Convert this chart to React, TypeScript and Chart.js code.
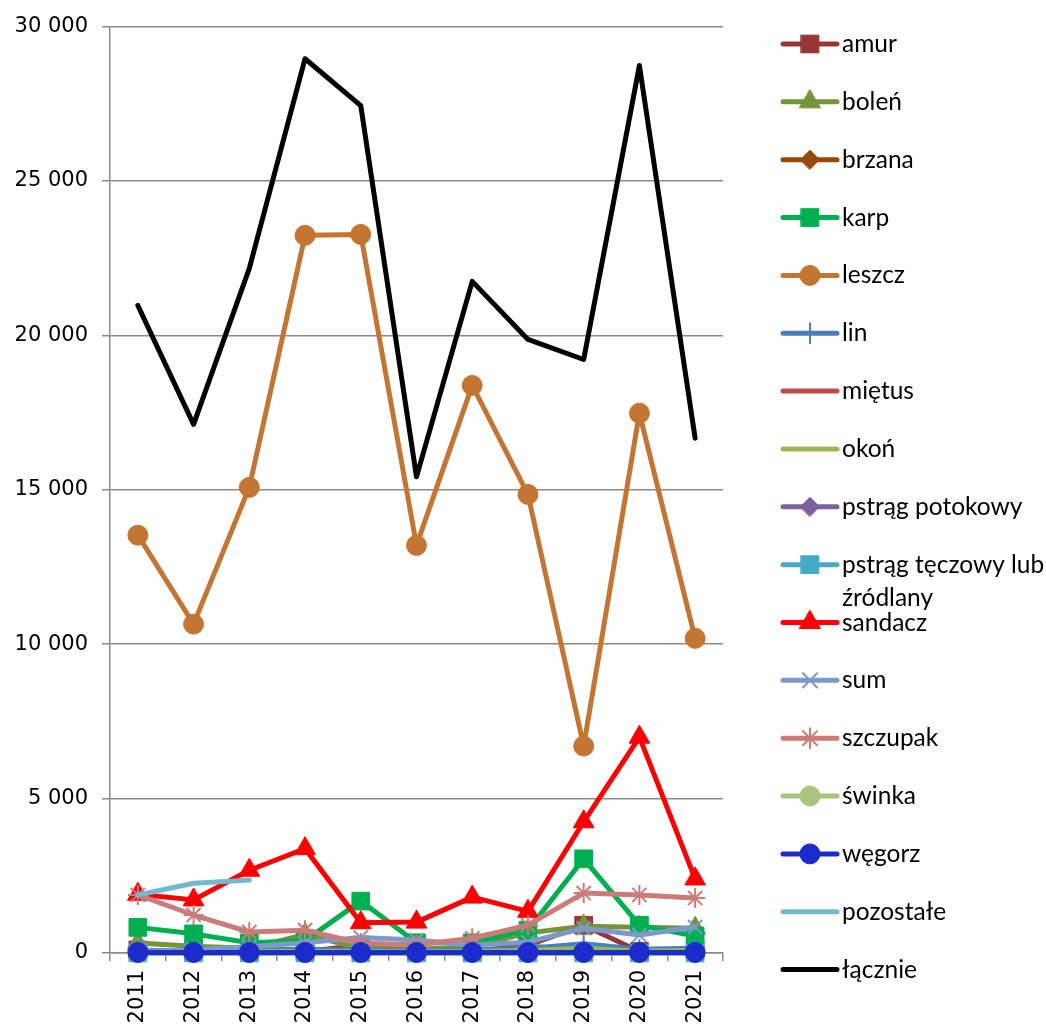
import React, { useEffect, useRef } from 'react';
import { Chart, registerables } from 'chart.js';
import { drawPoint } from 'chart.js/helpers';

Chart.register(...registerables);

const years = ['2011', '2012', '2013', '2014', '2015', '2016', '2017', '2018', '2019', '2020', '2021'];

const amur = [100, 50, 50, 50, 250, 50, 50, 250, 900, 50, 100];
const bolen = [320, 220, 150, 600, 150, 120, 200, 650, 870, 830, 800];
const brzana = [30, 20, 20, 30, 30, 20, 20, 220, 100, 20, 30];
const karp = [830, 620, 330, 400, 1680, 330, 330, 740, 3050, 900, 550];
const leszcz = [13530, 10650, 15080, 23240, 23270, 13200, 18380, 14850, 6700, 17480, 10190];
const lin = [80, 80, 100, 120, 100, 80, 100, 150, 300, 120, 150];
const mietus = [5, 5, 5, 5, 5, 5, 5, 5, 5, 5, 5];
const okon = [60, 50, 50, 50, 50, 40, 50, 80, 150, 60, 80];
const pstragPotokowy = [10, 10, 10, 10, 10, 10, 10, 10, 10, 10, 10];
const pstragTeczowy = [0, 0, 0, 0, 0, 0, 0, 0, 0, 0, 0];
const sandacz = [1900, 1720, 2680, 3380, 980, 1000, 1810, 1350, 4250, 6990, 2400];
const sum = [50, 100, 200, 330, 500, 420, 260, 350, 800, 580, 840];
const szczupak = [1880, 1230, 680, 740, 320, 260, 480, 900, 1940, 1880, 1780];
const swinka = [10, 10, 10, 10, 10, 10, 10, 10, 10, 10, 10];
const wegorz = [20, 20, 20, 20, 20, 20, 20, 20, 20, 20, 20];
const pozostale = [1880, 2260, 2360, null, null, null, null, null, null, null, null];
const lacznie = [20970, 17120, 22170, 28960, 27440, 15420, 21750, 19870, 19220, 28740, 16670];

const seriesNames = [
  'amur', 'boleń', 'brzana', 'karp', 'leszcz', 'lin', 'miętus', 'okoń',
  'pstrąg potokowy', 'pstrąg tęczowy lub\nźródlany', 'sandacz', 'sum', 'szczupak',
  'świnka', 'węgorz', 'pozostałe', 'łącznie',
];
const seriesValues = [
  amur, bolen, brzana, karp, leszcz, lin, mietus, okon, pstragPotokowy, pstragTeczowy,
  sandacz, sum, szczupak, swinka, wegorz, pozostale, lacznie,
];

// styles: [color, pointStyle, radius, pointBorderWidth]
const seriesStyles: [string, string | false, number, number][] = [
  ['#953735', 'rect', 12.5, 1],
  ['#77933C', 'triangle', 12, 1],
  ['#984807', 'rectRot', 9.5, 1],
  ['#00B050', 'rect', 12.5, 1],
  ['#C47532', 'circle', 10, 1],
  ['#4A7EBB', 'cross', 10, 2],
  ['#BE4B48', false, 0, 0],
  ['#98B954', false, 0, 0],
  ['#7D5FA0', 'rectRot', 9.5, 1],
  ['#46AAC5', 'rect', 12.5, 1],
  ['#FF0000', 'triangle', 12, 1],
  ['#7D99CA', 'crossRot', 10, 2],
  ['#CC7B79', 'star', 10, 2],
  ['#A8C47E', 'circle', 10, 1],
  ['#1B2BCC', 'circle', 10, 1],
  ['#74B7CF', false, 0, 0],
  ['#000000', false, 0, 0],
];

const yTickValues = [0, 5000, 10000, 15000, 20000, 25000, 30000];

const fmt = (v: number) => String(v).replace(/\B(?=(\d{3})+(?!\d))/g, ' ');

const TICK_FONT = "'DejaVu Sans', Verdana, sans-serif";
const LEG_LINE_X0 = 783;
const LEG_LINE_X1 = 837;
const LEG_MARK_X = 810;
const LEG_TEXT_X = 842;
const LEG_Y0 = 44;
const LEG_STEP = 57.85;
const LEG_FONT = 24.5;

const legendPlugin = {
  id: 'sideLegend',
  afterDraw(chart: any) {
    const ctx = chart.ctx as CanvasRenderingContext2D;
    ctx.save();
    chart.data.datasets.forEach((ds: any, i: number) => {
      const y = LEG_Y0 + i * LEG_STEP;
      ctx.strokeStyle = ds.borderColor;
      ctx.lineWidth = 5;
      ctx.lineCap = 'round';
      ctx.beginPath();
      ctx.moveTo(LEG_LINE_X0, y);
      ctx.lineTo(LEG_LINE_X1, y);
      ctx.stroke();
      if (ds.pointStyle && ds.pointRadius > 0) {
        ctx.fillStyle = ds.pointBackgroundColor;
        ctx.strokeStyle = ds.pointBorderColor;
        ctx.lineWidth = ds.pointBorderWidth;
        drawPoint(ctx, { pointStyle: ds.pointStyle, rotation: 0, radius: ds.pointRadius, borderWidth: ds.pointBorderWidth } as any, LEG_MARK_X, y);
      }
      ctx.fillStyle = '#000';
      ctx.font = `${LEG_FONT}px Lato`;
      ctx.textAlign = 'left';
      ctx.textBaseline = 'alphabetic';
      const lines = String(ds.label).split('\n');
      lines.forEach((t, k) => ctx.fillText(t, LEG_TEXT_X, y + 8 + k * 33));
    });
    ctx.restore();
  },
};

export default function App() {
  const ref = useRef<HTMLCanvasElement | null>(null);
  useEffect(() => {
    if (!ref.current) return;
    const datasets = seriesNames.map((name, i) => {
      const [color, ps, r, bw] = seriesStyles[i];
      return {
        label: name,
        data: seriesValues[i],
        borderColor: color,
        backgroundColor: color,
        borderWidth: 5,
        borderJoinStyle: 'round' as const,
        borderCapStyle: 'round' as const,
        pointStyle: ps,
        pointRadius: r,
        pointHoverRadius: r,
        pointBorderWidth: bw,
        pointBackgroundColor: color,
        pointBorderColor: color,
        tension: 0,
        spanGaps: false,
        clip: false as const,
        order: seriesNames.length - i,
      };
    });
    const chart = new Chart(ref.current, {
      type: 'line',
      data: { labels: years, datasets },
      options: {
        animation: false,
        responsive: true,
        maintainAspectRatio: false,
        layout: { padding: { top: 26, right: 323, left: 0, bottom: 0 } },
        plugins: { legend: { display: false }, tooltip: { enabled: false } },
        scales: {
          x: {
            type: 'category',
            offset: true,
            grid: {
              offset: true,
              drawOnChartArea: false,
              drawTicks: true,
              tickLength: 8,
              color: '#8a8a8a',
              lineWidth: 1.5,
            },
            border: { color: '#8a8a8a', width: 1.5 },
            ticks: {
              color: '#000',
              font: { family: TICK_FONT, size: 21 },
              minRotation: 90,
              maxRotation: 90,
              padding: 9,
              autoSkip: false,
            },
            afterFit: (s: any) => { s.height = 72; },
          },
          y: {
            min: 0,
            max: 30000,
            grid: { color: '#8a8a8a', lineWidth: 1.5, tickLength: 8, drawTicks: true },
            border: { color: '#8a8a8a', width: 1.5 },
            afterBuildTicks: (s: any) => { s.ticks = yTickValues.map((v) => ({ value: v })); },
            ticks: {
              color: '#000',
              font: { family: TICK_FONT, size: 21 },
              padding: 14,
              callback: (v: any) => fmt(Number(v)),
            },
            afterFit: (s: any) => { s.width = 110; },
          },
        },
      },
      plugins: [legendPlugin],
    });
    return () => chart.destroy();
  }, []);
  return (
    <div style={{ position: 'absolute', left: 0, top: 0, width: 1046, height: 1025, background: '#fff' }}>
      <canvas ref={ref} />
    </div>
  );
}
